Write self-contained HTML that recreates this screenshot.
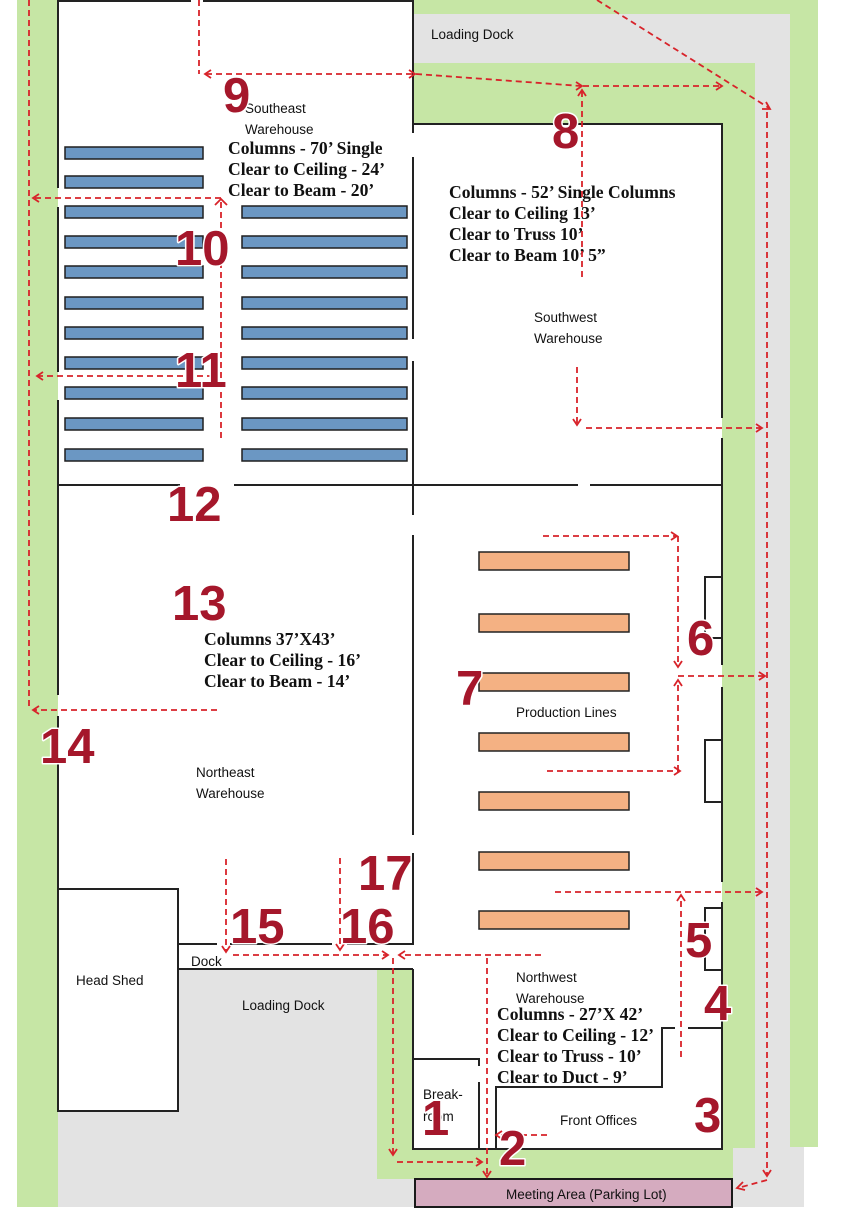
<!DOCTYPE html>
<html>
<head>
<meta charset="utf-8">
<style>
html,body{margin:0;padding:0;background:#fff;}
svg{display:block;}
.lbl{font-family:"Liberation Sans",sans-serif;font-size:13.5px;fill:#111;}
.bt{font-family:"Liberation Serif",serif;font-weight:bold;font-size:17.6px;fill:#111;}
.num{font-family:"Liberation Sans",sans-serif;font-weight:bold;font-size:49px;fill:#a5172b;stroke:#fff;stroke-width:3;paint-order:stroke;stroke-linejoin:round;}
.w{stroke:#222;stroke-width:2;fill:none;}
.d{stroke:#d8232a;stroke-width:1.8;stroke-dasharray:6,4;fill:none;}
.a{stroke:#d8232a;stroke-width:1.8;fill:none;}
.rb{fill:#6b97c3;stroke:#1f1f1f;stroke-width:1.5;}
.ro{fill:#f4b183;stroke:#222;stroke-width:1.5;}
</style>
</head>
<body>
<svg width="846" height="1222" viewBox="0 0 846 1222" xmlns="http://www.w3.org/2000/svg">
<!-- backgrounds -->
<rect x="17" y="0" width="41" height="1207" fill="#c6e6a5"/>
<rect x="58" y="969" width="319" height="238" fill="#e3e3e3"/>
<rect x="377" y="1179" width="38" height="28" fill="#e3e3e3"/>
<rect x="413" y="0" width="377" height="14" fill="#c6e6a5"/>
<rect x="790" y="0" width="28" height="1147" fill="#c6e6a5"/>
<rect x="413" y="14" width="377" height="49" fill="#e3e3e3"/>
<rect x="755" y="14" width="35" height="1134" fill="#e3e3e3"/>
<rect x="733" y="1147" width="71" height="60" fill="#e3e3e3"/>
<rect x="413" y="63" width="342" height="61" fill="#c6e6a5"/>
<rect x="722" y="63" width="33" height="1085" fill="#c6e6a5"/>
<rect x="377" y="969" width="356" height="210" fill="#c6e6a5"/>
<!-- building interiors -->
<rect x="58" y="1" width="355" height="888" fill="#fff"/>
<rect x="413" y="124" width="309" height="1025" fill="#fff"/>
<rect x="178" y="944" width="235" height="25" fill="#fff"/>
<rect x="58" y="889" width="120" height="222" fill="#fff"/>
<!-- meeting area -->
<rect x="415" y="1179" width="317" height="28" fill="#d5abbf" stroke="#1a1a1a" stroke-width="2"/>

<!-- walls -->
<g class="w">
<!-- top -->
<line x1="57" y1="1" x2="191" y2="1"/><line x1="203" y1="1" x2="413" y2="1"/>
<!-- left wall -->
<line x1="58" y1="0" x2="58" y2="188"/><line x1="58" y1="207" x2="58" y2="372"/>
<line x1="58" y1="400" x2="58" y2="695"/><line x1="58" y1="716" x2="58" y2="889"/>
<!-- head shed -->
<rect x="58" y="889" width="120" height="222"/>
<!-- dock -->
<line x1="178" y1="944" x2="217" y2="944"/><line x1="230" y1="944" x2="332" y2="944"/><line x1="347" y1="944" x2="414" y2="944"/>
<line x1="178" y1="969" x2="413" y2="969"/>
<!-- x=413 vertical -->
<line x1="413" y1="0" x2="413" y2="133"/><line x1="413" y1="157" x2="413" y2="339"/>
<line x1="413" y1="361" x2="413" y2="515"/><line x1="413" y1="535" x2="413" y2="835"/>
<line x1="413" y1="853" x2="413" y2="944"/>
<line x1="413" y1="969" x2="413" y2="1149"/>
<!-- y=485 -->
<line x1="58" y1="485" x2="180" y2="485"/><line x1="234" y1="485" x2="578" y2="485"/><line x1="590" y1="485" x2="722" y2="485"/>
<!-- SW top -->
<line x1="413" y1="124" x2="723" y2="124"/>
<!-- right wall -->
<line x1="722" y1="124" x2="722" y2="418"/><line x1="722" y1="438" x2="722" y2="665"/>
<line x1="722" y1="687" x2="722" y2="882"/><line x1="722" y1="902" x2="722" y2="1150"/>
<!-- bottom -->
<line x1="412" y1="1149" x2="723" y2="1149"/>
<!-- small rooms -->
<polyline points="722,577 705,577 705,638 722,638"/>
<polyline points="722,740 705,740 705,802 722,802"/>
<polyline points="722,908 705,908 705,970 722,970"/>
<!-- front offices -->
<polyline points="496,1149 496,1087 662,1087 662,1028 675,1028"/>
<line x1="688" y1="1028" x2="722" y2="1028"/>
<!-- break room -->
<polyline points="413,1059 479,1059 479,1066"/>
<line x1="479" y1="1082" x2="479" y2="1149"/>
</g>

<!-- blue racks -->
<g class="rb">
<rect x="65" y="147" width="138" height="12"/>
<rect x="65" y="176" width="138" height="12"/>
<rect x="65" y="206" width="138" height="12"/>
<rect x="65" y="236" width="138" height="12"/>
<rect x="65" y="266" width="138" height="12"/>
<rect x="65" y="297" width="138" height="12"/>
<rect x="65" y="327" width="138" height="12"/>
<rect x="65" y="357" width="138" height="12"/>
<rect x="65" y="387" width="138" height="12"/>
<rect x="65" y="418" width="138" height="12"/>
<rect x="65" y="449" width="138" height="12"/>
<rect x="242" y="206" width="165" height="12"/>
<rect x="242" y="236" width="165" height="12"/>
<rect x="242" y="266" width="165" height="12"/>
<rect x="242" y="297" width="165" height="12"/>
<rect x="242" y="327" width="165" height="12"/>
<rect x="242" y="357" width="165" height="12"/>
<rect x="242" y="387" width="165" height="12"/>
<rect x="242" y="418" width="165" height="12"/>
<rect x="242" y="449" width="165" height="12"/>
</g>
<!-- orange production lines -->
<g class="ro">
<rect x="479" y="552" width="150" height="18"/>
<rect x="479" y="614" width="150" height="18"/>
<rect x="479" y="673" width="150" height="18"/>
<rect x="479" y="733" width="150" height="18"/>
<rect x="479" y="792" width="150" height="18"/>
<rect x="479" y="852" width="150" height="18"/>
<rect x="479" y="911" width="150" height="18"/>
</g>

<!-- labels -->
<text class="lbl" x="245" y="113">Southeast</text>
<text class="lbl" x="245" y="134">Warehouse</text>
<text class="lbl" x="431" y="39">Loading Dock</text>
<text class="lbl" x="534" y="322">Southwest</text>
<text class="lbl" x="534" y="343">Warehouse</text>
<text class="lbl" x="196" y="777">Northeast</text>
<text class="lbl" x="196" y="798">Warehouse</text>
<text class="lbl" x="516" y="717">Production Lines</text>
<text class="lbl" x="76" y="985">Head Shed</text>
<text class="lbl" x="191" y="966">Dock</text>
<text class="lbl" x="242" y="1010">Loading Dock</text>
<text class="lbl" x="516" y="982">Northwest</text>
<text class="lbl" x="516" y="1003">Warehouse</text>
<text class="lbl" x="423" y="1099">Break-</text>
<text class="lbl" x="423" y="1121">room</text>
<text class="lbl" x="560" y="1125">Front Offices</text>
<text class="lbl" x="506" y="1199">Meeting Area (Parking Lot)</text>

<text class="bt" x="228" y="154">Columns - 70’ Single</text>
<text class="bt" x="228" y="175">Clear to Ceiling - 24’</text>
<text class="bt" x="228" y="196">Clear to Beam - 20’</text>

<text class="bt" x="449" y="198">Columns - 52’ Single Columns</text>
<text class="bt" x="449" y="219">Clear to Ceiling 13’</text>
<text class="bt" x="449" y="240">Clear to Truss 10’</text>
<text class="bt" x="449" y="261">Clear to Beam 10’ 5”</text>

<text class="bt" x="204" y="645">Columns 37’X43’</text>
<text class="bt" x="204" y="666">Clear to Ceiling - 16’</text>
<text class="bt" x="204" y="687">Clear to Beam - 14’</text>

<text class="bt" x="497" y="1020">Columns - 27’X 42’</text>
<text class="bt" x="497" y="1041">Clear to Ceiling - 12’</text>
<text class="bt" x="497" y="1062">Clear to Truss - 10’</text>
<text class="bt" x="497" y="1083">Clear to Duct - 9’</text>

<!-- dashed routes -->
<g class="d">
<line x1="29" y1="0" x2="29" y2="710"/>
<line x1="221" y1="438" x2="221" y2="200"/>
<line x1="221" y1="198" x2="33" y2="198"/>
<line x1="213" y1="376" x2="37" y2="376"/>
<line x1="217" y1="710" x2="33" y2="710"/>
<line x1="199" y1="0" x2="199" y2="74"/>
<line x1="206" y1="74" x2="414" y2="74"/>
<line x1="416" y1="74" x2="581" y2="86"/>
<line x1="583" y1="86" x2="721" y2="86"/>
<line x1="582" y1="91" x2="582" y2="280"/>
<line x1="597" y1="0" x2="769" y2="108"/>
<line x1="767" y1="112" x2="767" y2="1175"/>
<line x1="767" y1="1180" x2="738" y2="1188"/>
<line x1="577" y1="367" x2="577" y2="424"/>
<line x1="586" y1="428" x2="761" y2="428"/>
<line x1="543" y1="536" x2="676" y2="536"/>
<line x1="678" y1="536" x2="678" y2="666"/>
<line x1="678" y1="676" x2="764" y2="676"/>
<line x1="678" y1="771" x2="678" y2="681"/>
<line x1="547" y1="771" x2="679" y2="771"/>
<line x1="555" y1="892" x2="761" y2="892"/>
<line x1="681" y1="1057" x2="681" y2="896"/>
<line x1="226" y1="859" x2="226" y2="951"/>
<line x1="340" y1="858" x2="340" y2="949"/>
<line x1="233" y1="955" x2="387" y2="955"/>
<line x1="541" y1="955" x2="400" y2="955"/>
<line x1="393" y1="958" x2="393" y2="1154"/>
<line x1="397" y1="1162" x2="481" y2="1162"/>
<line x1="487" y1="958" x2="487" y2="1176"/>
<line x1="547" y1="1135" x2="497" y2="1135"/>
</g>
<!-- arrowheads -->
<g class="a">
<polyline points="227,205 221,199 215,205"/>
<polyline points="39,194 33,198 39,202"/>
<polyline points="43,372 37,376 43,380"/>
<polyline points="39,706 33,710 39,714"/>
<polyline points="211,70 205,74 211,78"/>
<polyline points="409,70 415,74 409,78"/>
<polyline points="576,82 582,86 576,90"/>
<polyline points="716,82 722,86 716,90"/>
<polyline points="578,96 582,90 586,96"/>
<polyline points="762,109 770,109 766,102"/>
<polyline points="763,1170 767,1176 771,1170"/>
<polyline points="743,1182 737,1188 745,1190"/>
<polyline points="573,419 577,425 581,419"/>
<polyline points="756,424 762,428 756,432"/>
<polyline points="671,532 677,536 671,540"/>
<polyline points="674,661 678,667 682,661"/>
<polyline points="759,672 765,676 759,680"/>
<polyline points="674,686 678,680 682,686"/>
<polyline points="674,767 680,771 674,775"/>
<polyline points="756,888 762,892 756,896"/>
<polyline points="677,901 681,895 685,901"/>
<polyline points="222,946 226,952 230,946"/>
<polyline points="336,944 340,950 344,944"/>
<polyline points="382,951 388,955 382,959"/>
<polyline points="405,951 399,955 405,959"/>
<polyline points="389,1149 393,1155 397,1149"/>
<polyline points="476,1158 482,1162 476,1166"/>
<polyline points="483,1171 487,1177 491,1171"/>
<polyline points="502,1131 496,1135 502,1139"/>
</g>

<!-- numbers -->
<g class="num">
<text x="223" y="112">9</text>
<text x="552" y="148">8</text>
<text x="175" y="265">10</text>
<text x="175" y="387">11</text>
<text x="167" y="521">12</text>
<text x="172" y="620">13</text>
<text x="40" y="763">14</text>
<text x="456" y="705">7</text>
<text x="687" y="655">6</text>
<text x="358" y="890">17</text>
<text x="230" y="943">15</text>
<text x="340" y="943">16</text>
<text x="685" y="957">5</text>
<text x="704" y="1020">4</text>
<text x="694" y="1132">3</text>
<text x="422" y="1135">1</text>
<text x="499" y="1165">2</text>
</g>
</svg>
</body>
</html>
